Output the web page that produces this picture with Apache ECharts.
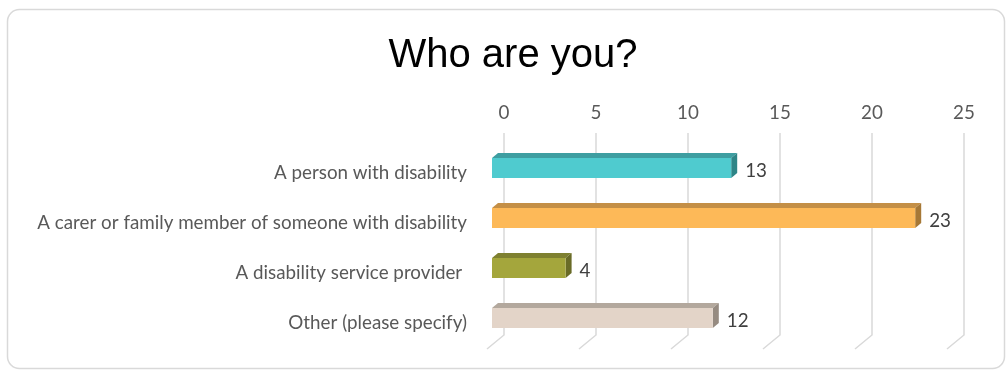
<!DOCTYPE html>
<html>
<head>
<meta charset="utf-8">
<script src="https://cdn.jsdelivr.net/npm/echarts@6/dist/echarts.min.js"></script>
<style>
  html, body { margin: 0; padding: 0; background: #ffffff; }
  #chart { width: 1006px; height: 371px; }
</style>
</head>
<body>
<div id="chart"></div>
<script>
// Survey answers: "Who are you?"
const categories = [
  'A person with disability',
  'A carer or family member of someone with disability',
  'A disability service provider ',
  'Other (please specify)'
];
const counts = [13, 23, 4, 12];
const axisTicks = [0, 5, 10, 15, 20, 25];

// Front / top / side face colours for each box-shaped bar
const faceColors = [
  ['#4fcbcf', '#3e9ea1', '#2e8587'],
  ['#fdb958', '#c48f46', '#a67836'],
  ['#a4a63c', '#7e8030', '#696b27'],
  ['#e3d4c8', '#b3a89d', '#968b81']
];

const LABEL_FONT = 'Lato';
const LABEL_SIZE = 18.8;
const DEPTH_X = 12;     // front plane sits this far left of the back wall
const BOX_DX = 6;       // bar depth, horizontal
const BOX_DY = 5;       // bar depth, vertical
const BAR_H = 20;       // front face height

const chart = echarts.init(document.getElementById('chart'), null, { renderer: 'canvas' });

function renderGridLine(params, api) {
  const cs = params.coordSys;
  const p = api.coord([api.value(0), 0]);
  const x = p[0];
  const yTop = cs.y - 10;
  const yBot = cs.y + cs.height - 8;
  return {
    type: 'polyline',
    shape: { points: [[x, yTop], [x, yBot], [x - 17, yBot + 14]] },
    style: { stroke: '#d9d9d9', lineWidth: 1.5, fill: null },
    silent: true
  };
}

function renderBox(params, api) {
  const idx = params.dataIndex;
  const v = api.value(0);
  const c = api.value(1);
  const p0 = api.coord([0, c]);
  const p1 = api.coord([v, c]);
  const x0 = p0[0] - DEPTH_X;
  const x1 = p1[0] - DEPTH_X;
  const yT = p0[1] - BAR_H / 2;
  const yB = p0[1] + BAR_H / 2;
  const col = faceColors[idx];
  return {
    type: 'group',
    children: [
      {
        type: 'polygon',
        shape: { points: [[x0, yT], [x0 + BOX_DX, yT - BOX_DY], [x1 + BOX_DX, yT - BOX_DY], [x1, yT]] },
        style: { fill: col[1] }
      },
      {
        type: 'polygon',
        shape: { points: [[x1, yT], [x1 + BOX_DX, yT - BOX_DY], [x1 + BOX_DX, yB - BOX_DY], [x1, yB]] },
        style: { fill: col[2] }
      },
      {
        type: 'rect',
        shape: { x: x0, y: yT, width: x1 - x0, height: BAR_H },
        style: { fill: col[0] }
      },
      {
        type: 'text',
        style: {
          text: String(v),
          x: x1 + 14,
          y: p0[1] + 3,
          align: 'left',
          verticalAlign: 'middle',
          fill: '#404040',
          font: LABEL_SIZE + 'px ' + LABEL_FONT
        }
      }
    ]
  };
}

chart.setOption({
  animation: false,
  graphic: [
    {
      type: 'rect',
      shape: { x: 7.5, y: 9.5, width: 997, height: 359, r: 12 },
      style: { fill: 'none', stroke: '#d9d9d9', lineWidth: 1.5 },
      silent: true,
      z: -10
    },
    {
      type: 'text',
      style: {
        text: 'Who are you?',
        x: 513,
        y: 56,
        align: 'center',
        verticalAlign: 'middle',
        fill: '#000000',
        font: '40px "Liberation Sans"'
      }
    }
  ],
  // grid 0: bars and value axis; grid 1: category names, set on the floor's front edge
  grid: [
    { left: 504, width: 460, top: 143, height: 200 },
    { left: 504, width: 460, top: 148, height: 200 }
  ],
  xAxis: [
    {
      type: 'value',
      gridIndex: 0,
      position: 'top',
      min: 0,
      max: 25,
      interval: 5,
      axisLine: { show: false },
      axisTick: { show: false },
      splitLine: { show: false },
      axisLabel: { color: '#595959', fontSize: LABEL_SIZE, fontFamily: LABEL_FONT, margin: 21 }
    },
    {
      type: 'value',
      gridIndex: 1,
      min: 0,
      max: 25,
      interval: 5,
      show: false
    }
  ],
  yAxis: [
    {
      type: 'category',
      gridIndex: 0,
      inverse: true,
      data: categories,
      show: false
    },
    {
      type: 'category',
      gridIndex: 1,
      inverse: true,
      data: categories,
      axisLine: { show: false },
      axisTick: { show: false },
      axisLabel: {
        color: '#595959',
        fontSize: LABEL_SIZE,
        fontFamily: LABEL_FONT,
        margin: 37
      }
    }
  ],
  series: [
    {
      type: 'custom',
      renderItem: renderGridLine,
      data: axisTicks.map(t => [t]),
      encode: { x: 0 },
      silent: true,
      z: 1
    },
    {
      type: 'custom',
      renderItem: renderBox,
      data: counts.map((v, i) => [v, i]),
      encode: { x: 0, y: 1 },
      z: 2
    }
  ]
});
</script>
</body>
</html>
